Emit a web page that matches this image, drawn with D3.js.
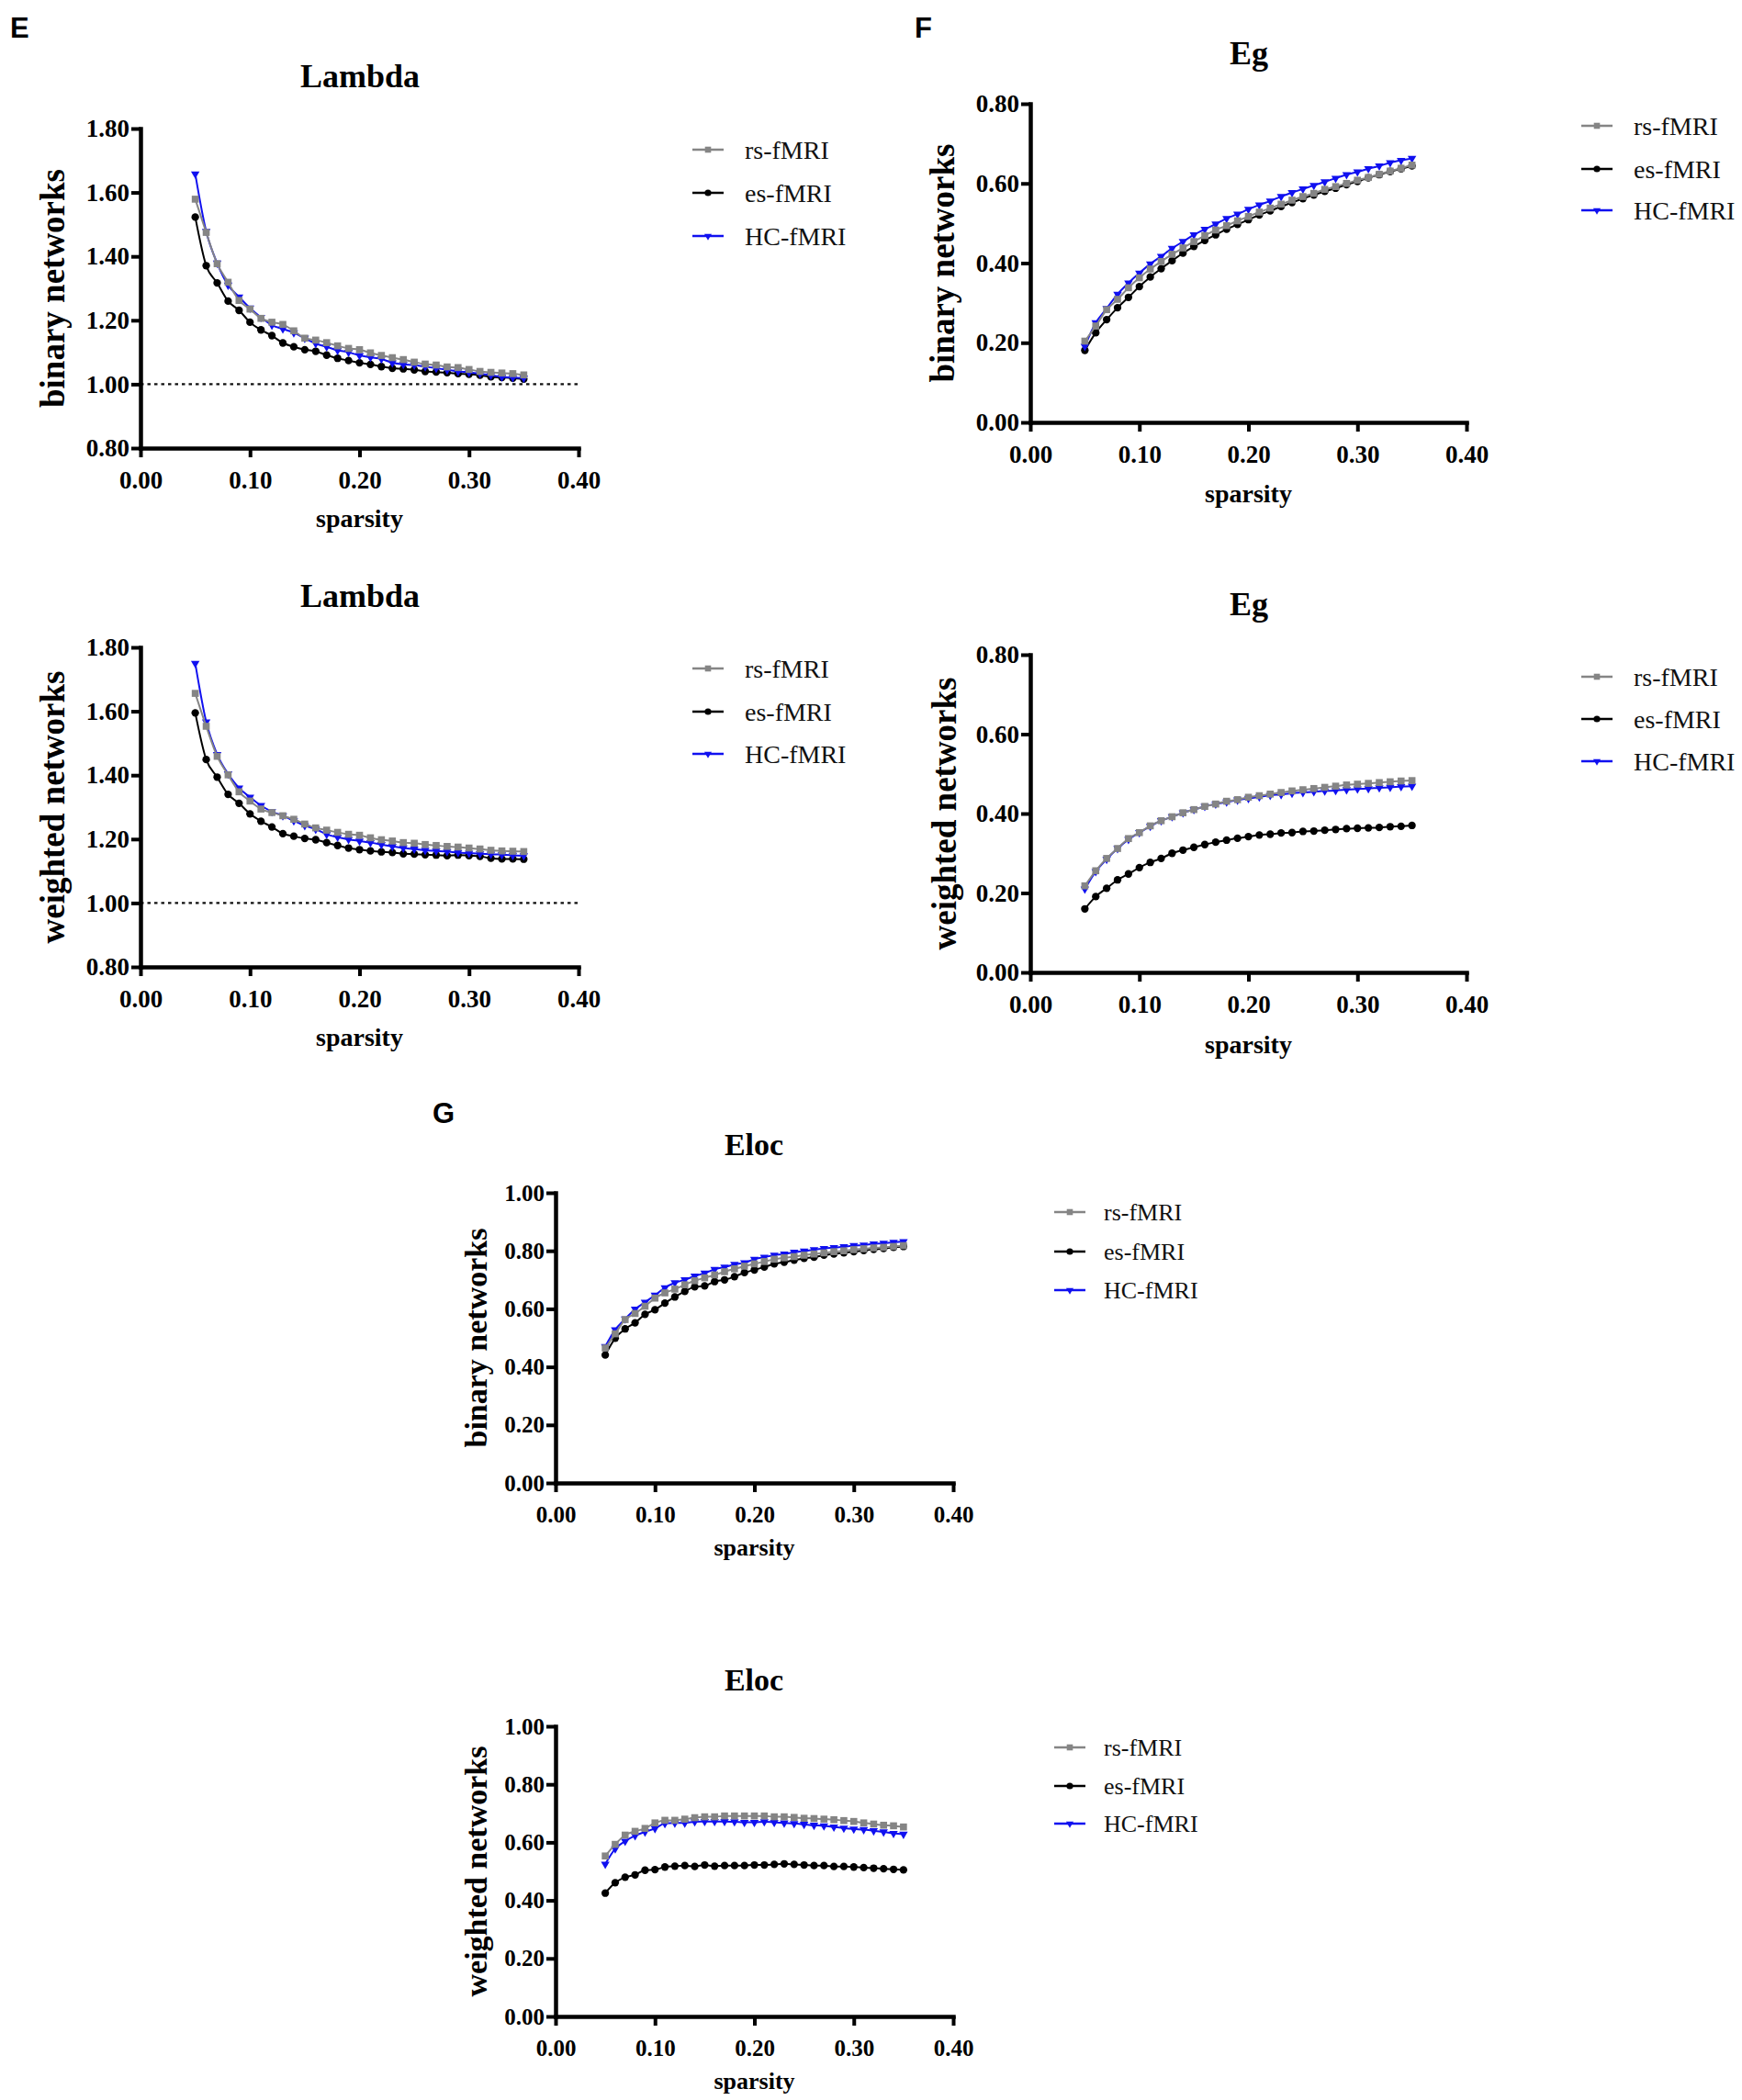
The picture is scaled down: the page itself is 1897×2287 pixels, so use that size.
<!DOCTYPE html>
<html>
<head>
<meta charset="utf-8">
<script src="https://cdn.jsdelivr.net/npm/d3@7/dist/d3.min.js"></script>
<style>
  body { margin: 0; background: #fff; }
  svg { display: block; }
  .tick text { font-family: "Liberation Serif", "Times New Roman", serif; font-weight: bold; }
</style>
</head>
<body>
<svg id="chart"></svg>
<script>
// x values shared by every panel
const sparsity = [0.05, 0.06, 0.07, 0.08, 0.09, 0.10, 0.11, 0.12, 0.13, 0.14, 0.15,
  0.16, 0.17, 0.18, 0.19, 0.20, 0.21, 0.22, 0.23, 0.24, 0.25, 0.26, 0.27, 0.28,
  0.29, 0.30, 0.31, 0.32, 0.33, 0.34, 0.35];

const seriesNames = ["rs-fMRI", "es-fMRI", "HC-fMRI"];

// Lambda, binary networks
const lambdaBinRs = [1.579, 1.475, 1.377, 1.319, 1.262, 1.235, 1.206, 1.194, 1.187, 1.167, 1.144,
  1.138, 1.130, 1.120, 1.112, 1.108, 1.098, 1.090, 1.083, 1.077, 1.069, 1.063, 1.060, 1.054,
  1.052, 1.046, 1.040, 1.037, 1.035, 1.033, 1.029];
const lambdaBinEs = [1.523, 1.371, 1.317, 1.260, 1.231, 1.194, 1.170, 1.152, 1.129, 1.117, 1.108,
  1.103, 1.091, 1.081, 1.074, 1.067, 1.062, 1.055, 1.050, 1.048, 1.045, 1.040, 1.038, 1.036,
  1.033, 1.031, 1.028, 1.023, 1.021, 1.019, 1.016];
const lambdaBinHc = [1.658, 1.478, 1.379, 1.310, 1.273, 1.238, 1.209, 1.185, 1.173, 1.161, 1.144,
  1.127, 1.117, 1.106, 1.100, 1.090, 1.084, 1.079, 1.067, 1.062, 1.060, 1.055, 1.050, 1.045,
  1.040, 1.037, 1.033, 1.028, 1.023, 1.021, 1.019];

// Lambda, weighted networks
const lambdaWtRs = [1.656, 1.553, 1.459, 1.401, 1.348, 1.319, 1.294, 1.283, 1.273, 1.262, 1.247,
  1.235, 1.228, 1.221, 1.215, 1.212, 1.204, 1.198, 1.194, 1.189, 1.187, 1.183, 1.180, 1.177,
  1.175, 1.172, 1.169, 1.165, 1.163, 1.162, 1.161];
const lambdaWtEs = [1.595, 1.449, 1.394, 1.340, 1.312, 1.279, 1.256, 1.238, 1.217, 1.209, 1.202,
  1.198, 1.189, 1.180, 1.172, 1.167, 1.163, 1.160, 1.158, 1.154, 1.153, 1.151, 1.150, 1.148,
  1.150, 1.148, 1.146, 1.140, 1.138, 1.138, 1.137];
const lambdaWtHc = [1.750, 1.567, 1.465, 1.404, 1.360, 1.331, 1.305, 1.286, 1.273, 1.257, 1.242,
  1.231, 1.215, 1.206, 1.199, 1.194, 1.189, 1.183, 1.177, 1.172, 1.169, 1.165, 1.163, 1.161,
  1.158, 1.156, 1.154, 1.153, 1.151, 1.149, 1.148];

// Eg, binary networks
const egBinRs = [0.204, 0.242, 0.283, 0.309, 0.338, 0.363, 0.385, 0.404, 0.422, 0.438, 0.454,
  0.469, 0.483, 0.494, 0.506, 0.517, 0.528, 0.538, 0.548, 0.558, 0.567, 0.575, 0.585, 0.592,
  0.600, 0.608, 0.615, 0.623, 0.631, 0.638, 0.646];
const egBinEs = [0.181, 0.225, 0.258, 0.288, 0.314, 0.341, 0.365, 0.386, 0.406, 0.425, 0.442,
  0.457, 0.471, 0.485, 0.497, 0.509, 0.521, 0.531, 0.542, 0.552, 0.562, 0.571, 0.580, 0.588,
  0.597, 0.605, 0.614, 0.622, 0.630, 0.637, 0.644];
const egBinHc = [0.191, 0.250, 0.286, 0.322, 0.350, 0.375, 0.398, 0.417, 0.437, 0.454, 0.471,
  0.485, 0.498, 0.512, 0.523, 0.535, 0.546, 0.556, 0.567, 0.577, 0.586, 0.595, 0.604, 0.613,
  0.622, 0.629, 0.637, 0.644, 0.652, 0.658, 0.663];

// Eg, weighted networks
const egWtRs = [0.218, 0.256, 0.287, 0.312, 0.337, 0.352, 0.369, 0.382, 0.392, 0.402, 0.410,
  0.418, 0.424, 0.431, 0.435, 0.441, 0.445, 0.449, 0.453, 0.457, 0.460, 0.463, 0.466, 0.469,
  0.472, 0.474, 0.476, 0.478, 0.480, 0.482, 0.483];
const egWtEs = [0.160, 0.191, 0.212, 0.233, 0.248, 0.264, 0.277, 0.287, 0.300, 0.308, 0.315,
  0.322, 0.328, 0.333, 0.338, 0.342, 0.346, 0.348, 0.351, 0.352, 0.355, 0.356, 0.358, 0.360,
  0.362, 0.363, 0.364, 0.365, 0.367, 0.368, 0.370];
const egWtHc = [0.210, 0.254, 0.285, 0.312, 0.335, 0.352, 0.368, 0.382, 0.392, 0.402, 0.410,
  0.418, 0.424, 0.429, 0.434, 0.438, 0.442, 0.446, 0.448, 0.451, 0.453, 0.455, 0.457, 0.458,
  0.460, 0.462, 0.463, 0.465, 0.466, 0.468, 0.469];

// Eloc, binary networks
const elocBinRs = [0.465, 0.514, 0.563, 0.584, 0.609, 0.637, 0.655, 0.668, 0.683, 0.697, 0.707,
  0.717, 0.728, 0.738, 0.747, 0.755, 0.763, 0.771, 0.776, 0.780, 0.785, 0.789, 0.793, 0.797,
  0.800, 0.804, 0.807, 0.810, 0.812, 0.815, 0.818];
const elocBinEs = [0.441, 0.499, 0.531, 0.552, 0.581, 0.597, 0.620, 0.641, 0.660, 0.676, 0.679,
  0.694, 0.700, 0.711, 0.725, 0.734, 0.744, 0.755, 0.761, 0.768, 0.774, 0.778, 0.785, 0.789,
  0.793, 0.797, 0.801, 0.805, 0.808, 0.812, 0.815];
const elocBinHc = [0.470, 0.528, 0.565, 0.599, 0.623, 0.647, 0.673, 0.690, 0.700, 0.713, 0.723,
  0.736, 0.744, 0.753, 0.759, 0.771, 0.778, 0.785, 0.789, 0.795, 0.799, 0.804, 0.808, 0.811,
  0.814, 0.818, 0.820, 0.824, 0.826, 0.829, 0.832];

// Eloc, weighted networks
const elocWtRs = [0.553, 0.593, 0.625, 0.638, 0.648, 0.667, 0.676, 0.676, 0.680, 0.685, 0.688,
  0.688, 0.691, 0.691, 0.691, 0.691, 0.691, 0.688, 0.688, 0.686, 0.683, 0.682, 0.680, 0.678,
  0.675, 0.672, 0.667, 0.663, 0.659, 0.657, 0.653];
const elocWtEs = [0.425, 0.461, 0.480, 0.488, 0.504, 0.506, 0.515, 0.518, 0.520, 0.517, 0.522,
  0.518, 0.520, 0.520, 0.520, 0.522, 0.522, 0.524, 0.526, 0.524, 0.522, 0.520, 0.520, 0.517,
  0.517, 0.515, 0.513, 0.511, 0.509, 0.507, 0.505];
const elocWtHc = [0.525, 0.578, 0.604, 0.623, 0.636, 0.648, 0.665, 0.667, 0.667, 0.671, 0.672,
  0.672, 0.672, 0.671, 0.669, 0.669, 0.671, 0.669, 0.667, 0.665, 0.662, 0.659, 0.657, 0.653,
  0.649, 0.646, 0.644, 0.640, 0.636, 0.631, 0.628];

// tick labels
const xTicks = [0.00, 0.10, 0.20, 0.30, 0.40];
const lambdaTicks = [0.80, 1.00, 1.20, 1.40, 1.60, 1.80];
const egTicks = [0.00, 0.20, 0.40, 0.60, 0.80];
const elocTicks = [0.00, 0.20, 0.40, 0.60, 0.80, 1.00];

// Basic config
const width = 1897;
const height = 2287;
const serif = '"Liberation Serif", "Times New Roman", serif';
const sans = '"Liberation Sans", Arial, sans-serif';

const styles = [
  { color: "#858585", symbol: d3.symbolSquare, size: 58, rotate: 0 },
  { color: "#000000", symbol: d3.symbolCircle, size: 54, rotate: 0 },
  { color: "#1010f0", symbol: d3.symbolTriangle, size: 38, rotate: 180 }
];

// panel layouts
const panels = [
  { left: 153, right: 630, top: 140, bottom: 488, domain: [0.8, 1.8], ticks: lambdaTicks,
    title: "Lambda", titleX: 392, titleY: 95, ylabel: "binary networks", ylabelX: 70, xlabelY: 574,
    refLine: 1.0, legendX: 754, legendY: [163, 210, 257], big: true,
    series: [lambdaBinRs, lambdaBinEs, lambdaBinHc] },
  { left: 153, right: 630, top: 705, bottom: 1053, domain: [0.8, 1.8], ticks: lambdaTicks,
    title: "Lambda", titleX: 392, titleY: 661, ylabel: "weighted networks", ylabelX: 70, xlabelY: 1139,
    refLine: 1.0, legendX: 754, legendY: [728, 775, 821], big: true,
    series: [lambdaWtRs, lambdaWtEs, lambdaWtHc] },
  { left: 1122, right: 1597, top: 113, bottom: 460, domain: [0, 0.8], ticks: egTicks,
    title: "Eg", titleX: 1360, titleY: 70, ylabel: "binary networks", ylabelX: 1039, xlabelY: 547,
    refLine: null, legendX: 1722, legendY: [137, 184, 229], big: true,
    series: [egBinRs, egBinEs, egBinHc] },
  { left: 1122, right: 1597, top: 713, bottom: 1059, domain: [0, 0.8], ticks: egTicks,
    title: "Eg", titleX: 1360, titleY: 670, ylabel: "weighted networks", ylabelX: 1041, xlabelY: 1147,
    refLine: null, legendX: 1722, legendY: [737, 783, 829], big: true,
    series: [egWtRs, egWtEs, egWtHc] },
  { left: 605, right: 1038, top: 1299, bottom: 1615, domain: [0, 1], ticks: elocTicks,
    title: "Eloc", titleX: 821, titleY: 1258, ylabel: "binary networks", ylabelX: 530, xlabelY: 1694,
    refLine: null, legendX: 1148, legendY: [1320, 1363, 1405], big: false,
    series: [elocBinRs, elocBinEs, elocBinHc] },
  { left: 605, right: 1038, top: 1880, bottom: 2196, domain: [0, 1], ticks: elocTicks,
    title: "Eloc", titleX: 821, titleY: 1841, ylabel: "weighted networks", ylabelX: 530, xlabelY: 2275,
    refLine: null, legendX: 1148, legendY: [1903, 1945, 1986], big: false,
    series: [elocWtRs, elocWtEs, elocWtHc] }
];

const panelLetters = [
  { text: "E", x: 11, y: 41 },
  { text: "F", x: 996, y: 41 },
  { text: "G", x: 471, y: 1223 }
];

const svg = d3.select("#chart")
  .attr("width", width)
  .attr("height", height)
  .attr("viewBox", [0, 0, width, height]);

svg.selectAll(".panel-letter")
  .data(panelLetters)
  .join("text")
    .attr("class", "panel-letter")
    .attr("x", d => d.x)
    .attr("y", d => d.y)
    .attr("font-family", sans)
    .attr("font-weight", "bold")
    .attr("font-size", 31)
    .text(d => d.text);

panels.forEach(drawPanel);

function drawPanel(p) {
  const g = svg.append("g");
  const tickFont = p.big ? 27 : 25;
  const x = d3.scaleLinear().domain([0, 0.4]).range([p.left, p.right]);
  const y = d3.scaleLinear().domain(p.domain).range([p.bottom, p.top]);

  // title
  g.append("text")
    .attr("x", p.titleX)
    .attr("y", p.titleY)
    .attr("text-anchor", "middle")
    .attr("font-family", serif)
    .attr("font-weight", "bold")
    .attr("font-size", p.big ? 36 : 34)
    .text(p.title);

  // reference line at 1.00
  if (p.refLine != null) {
    g.append("line")
      .attr("x1", x(0))
      .attr("x2", x(0.4))
      .attr("y1", y(p.refLine))
      .attr("y2", y(p.refLine))
      .attr("stroke", "#111")
      .attr("stroke-width", 2.4)
      .attr("stroke-dasharray", "3.5,4");
  }

  // axes
  const xAxis = d3.axisBottom(x)
    .tickValues(xTicks)
    .tickFormat(d3.format(".2f"))
    .tickSizeInner(10)
    .tickSizeOuter(0)
    .tickPadding(15);

  const yAxis = d3.axisLeft(y)
    .tickValues(p.ticks)
    .tickFormat(d3.format(".2f"))
    .tickSizeInner(10)
    .tickSizeOuter(0)
    .tickPadding(2);

  const gx = g.append("g")
    .attr("transform", `translate(0,${p.bottom})`)
    .call(xAxis);
  const gy = g.append("g")
    .attr("transform", `translate(${p.left},0)`)
    .call(yAxis);

  [gx, gy].forEach(a => {
    a.select(".domain").attr("stroke", "#000").attr("stroke-width", 4.5)
      .attr("stroke-linecap", "square");
    a.selectAll(".tick line").attr("stroke", "#000").attr("stroke-width", 4);
    a.selectAll(".tick text").attr("fill", "#000").attr("font-size", tickFont);
  });

  // axis labels
  g.append("text")
    .attr("x", (p.left + p.right) / 2)
    .attr("y", p.xlabelY)
    .attr("text-anchor", "middle")
    .attr("font-family", serif)
    .attr("font-weight", "bold")
    .attr("font-size", p.big ? 28 : 26)
    .text("sparsity");

  g.append("text")
    .attr("transform", `translate(${p.ylabelX},${(p.top + p.bottom) / 2}) rotate(-90)`)
    .attr("text-anchor", "middle")
    .attr("font-family", serif)
    .attr("font-weight", "bold")
    .attr("font-size", p.big ? 37 : 34)
    .text(p.ylabel);

  // series: es, HC, then rs on top
  const line = d3.line()
    .x((d, i) => x(sparsity[i]))
    .y(d => y(d))
    .curve(d3.curveMonotoneX);

  [1, 2, 0].forEach(si => {
    const st = styles[si];
    const values = p.series[si];
    g.append("path")
      .datum(values)
      .attr("fill", "none")
      .attr("stroke", st.color)
      .attr("stroke-width", 2)
      .attr("d", line);

    g.selectAll(null)
      .data(values)
      .join("path")
        .attr("transform", (d, i) => `translate(${x(sparsity[i])},${y(d)}) rotate(${st.rotate})`)
        .attr("d", d3.symbol().type(st.symbol).size(st.size))
        .attr("fill", st.color);
  });

  // legend
  const legendFont = p.big ? 28 : 26;
  const lg = g.append("g");
  seriesNames.forEach((name, i) => {
    const st = styles[i];
    const ly = p.legendY[i];
    lg.append("line")
      .attr("x1", p.legendX)
      .attr("x2", p.legendX + 34)
      .attr("y1", ly)
      .attr("y2", ly)
      .attr("stroke", st.color)
      .attr("stroke-width", 2.5);
    lg.append("path")
      .attr("transform", `translate(${p.legendX + 17},${ly}) rotate(${st.rotate})`)
      .attr("d", d3.symbol().type(st.symbol).size(st.size * 0.75))
      .attr("fill", st.color);
    lg.append("text")
      .attr("x", p.legendX + (p.big ? 57 : 54))
      .attr("y", ly)
      .attr("dy", "0.35em")
      .attr("font-family", serif)
      .attr("font-size", legendFont)
      .attr("fill", "#111")
      .text(name);
  });
}
</script>
</body>
</html>
